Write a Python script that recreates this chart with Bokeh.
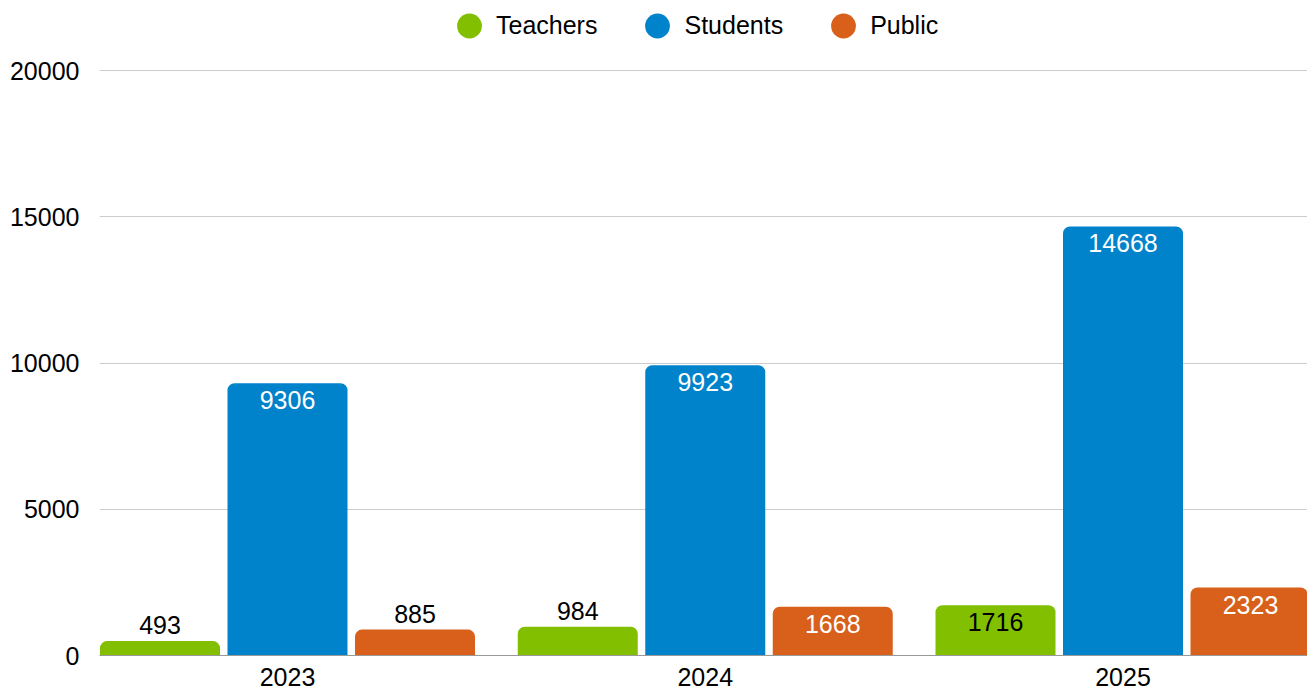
from bokeh.plotting import figure
from bokeh.models import ColumnDataSource, FixedTicker, Legend, LegendItem, Range1d
from bokeh.core.properties import value
from bokeh.embed import file_html
from bokeh.resources import INLINE

# ---- data ----
years = ["2023", "2024", "2025"]
series = ["Teachers", "Students", "Public"]
teachers = [493, 984, 1716]
students = [9306, 9923, 14668]
public = [885, 1668, 2323]
y_ticks = [0, 5000, 10000, 15000, 20000]

# ---- style ----
colors = ["#81bf00", "#0083cb", "#d8601b"]
label_inside_colors = ["#000000", "#ffffff", "#ffffff"]
FONT = "Liberation Sans"
FS = "25px"

W, H = 1307, 691
LEFT, BOTTOM = 99, 36
group_px = 417.75
offset_px = 127.5
bar_px = 120.0
first_center_px = 287 - LEFT  # group 0 center relative to frame left
frame_w = W - LEFT
frame_bottom = H - BOTTOM
top_tick_px = 70

x_start = -first_center_px / group_px
x_end = x_start + frame_w / group_px
y_end = y_ticks[-1] * frame_bottom / (frame_bottom - top_tick_px)
px_per_unit = (frame_bottom - top_tick_px) / y_ticks[-1]

offset = offset_px / group_px
bar_w = bar_px / group_px

p = figure(width=W, height=H, output_backend="svg", toolbar_location=None,
           x_range=Range1d(x_start, x_end), y_range=Range1d(0, y_end),
           min_border_left=LEFT, min_border_right=0, min_border_top=0,
           min_border_bottom=BOTTOM)
p.outline_line_color = None
p.background_fill_color = "white"
p.border_fill_color = "white"

values = [teachers, students, public]
legend_items = []
for k, (name, vals) in enumerate(zip(series, values)):
    xs = [i + (k - 1) * offset for i in range(len(years))]
    src = ColumnDataSource(dict(x=xs, top=vals))
    p.vbar(x="x", top="top", width=bar_w, bottom=0, source=src,
           fill_color=colors[k], line_color=None, border_radius=(7, 7, 0, 0))
    # labels
    inside = [v * px_per_unit >= 40 for v in vals]
    tsrc = ColumnDataSource(dict(
        x=xs, y=vals, text=[str(v) for v in vals],
        color=[label_inside_colors[k] if ins else "#000000" for ins in inside],
        yoff=[17 if ins else -16 for ins in inside]))
    p.text(x="x", y="y", text="text", source=tsrc, text_color="color",
           y_offset="yoff", text_align="center", text_baseline="middle",
           text_font=value(FONT), text_font_size=FS)
    # legend marker renderer (not drawn in the plot area)
    lr = p.ellipse(x=[float("nan")], y=[float("nan")], width=25, height=25,
                   width_units="screen", height_units="screen",
                   fill_color=colors[k], line_color=None)
    legend_items.append(LegendItem(label=name, renderers=[lr]))

legend_h = 31
legend = Legend(items=legend_items, orientation="horizontal",
                glyph_width=54, glyph_height=31, label_standoff=0, spacing=33,
                padding=0, margin=0, border_line_color=None,
                background_fill_alpha=0,
                label_text_font=FONT, label_text_font_size=FS,
                label_text_color="#000000",
                location=(442 - LEFT, frame_bottom - (25 - legend_h / 2) - legend_h))
p.add_layout(legend, "center")

# axes
p.xaxis.ticker = FixedTicker(ticks=list(range(len(years))))
p.xaxis.major_label_overrides = {i: y for i, y in enumerate(years)}
p.xaxis.axis_line_color = "#999999"
p.xaxis.major_tick_line_color = None
p.xaxis.minor_tick_line_color = None
p.xaxis.major_tick_out = 0
p.xaxis.major_tick_in = 0
p.xaxis.major_label_standoff = 12
p.xaxis.major_label_text_line_height = 0.8
p.xaxis.major_label_text_font = FONT
p.xaxis.major_label_text_font_size = FS
p.xaxis.major_label_text_color = "#000000"

p.yaxis.ticker = FixedTicker(ticks=y_ticks)
p.yaxis.axis_line_color = None
p.yaxis.major_tick_line_color = None
p.yaxis.minor_tick_line_color = None
p.yaxis.major_tick_out = 0
p.yaxis.major_tick_in = 0
p.yaxis.major_label_standoff = 20
p.yaxis.major_label_text_font = FONT
p.yaxis.major_label_text_font_size = FS
p.yaxis.major_label_text_color = "#000000"

p.xgrid.grid_line_color = None
p.ygrid.ticker = FixedTicker(ticks=y_ticks)
p.ygrid.grid_line_color = "#cccccc"
p.ygrid.grid_line_width = 1

open("out.html", "w").write(file_html(p, INLINE))
